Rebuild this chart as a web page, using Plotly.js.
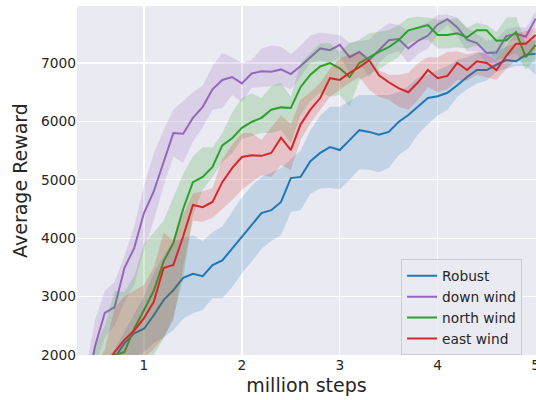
<!DOCTYPE html>
<html>
<head>
<meta charset="utf-8">
<script src="https://cdn.plot.ly/plotly-3.0.1.min.js"></script>
<style>html,body{margin:0;padding:0;background:#fff;}#chart{width:536px;height:400px;}</style>
</head>
<body>
<div id="chart"></div>
<script>
// x positions (million steps)
const steps = [0.4,0.5,0.6,0.7,0.8,0.9,1.0,1.1,1.2,1.3,1.4,1.5,1.6,1.7,1.8,1.9,2.0,2.1,2.2,2.3,2.4,2.5,2.6,2.7,2.8,2.9,3.0,3.1,3.2,3.3,3.4,3.5,3.6,3.7,3.8,3.9,4.0,4.1,4.2,4.3,4.4,4.5,4.6,4.7,4.8,4.9,5.0];

const seriesNames = ["Robust", "down wind", "north wind", "east wind"];

const robustMean = [1300,1450,1700,1950,2200,2370,2450,2680,2940,3110,3320,3390,3350,3540,3620,3820,4030,4240,4430,4480,4620,5030,5050,5320,5460,5560,5510,5680,5850,5820,5770,5820,5990,6110,6250,6400,6430,6490,6620,6760,6880,6880,6970,7050,7030,7140,7160];
const robustLow  = [1000,1200,1500,1700,1850,1950,2050,2200,2300,2430,2620,2720,2770,2970,2970,3160,3400,3600,3820,3950,4050,4450,4480,4760,4850,4860,4840,5000,5180,5170,5130,5200,5420,5540,5780,5950,6100,6200,6420,6550,6650,6700,6850,6900,6950,6950,6800];
const robustHigh = [1500,1700,1900,2100,2400,2700,3000,3400,3700,3950,4000,4050,3950,4100,4200,4450,4700,4900,5050,5120,5200,5350,5500,5850,6100,6250,6250,6350,6450,6450,6450,6450,6500,6600,6750,6800,6880,6950,7050,7100,7170,7200,7220,7280,7340,7370,7390];

const downMean = [1300,2150,2720,2820,3490,3830,4430,4800,5300,5800,5790,6060,6250,6550,6710,6760,6650,6820,6860,6850,6890,6810,6950,7100,7250,7220,7310,7100,7190,7050,7220,7390,7410,7250,7380,7470,7660,7750,7610,7400,7340,7170,7180,7460,7500,7450,7760];
const downLow  = [1000,1800,2300,2500,2900,3200,3800,4300,4900,5400,5290,5650,5900,6200,6230,6450,6330,6570,6590,6600,6620,6550,6760,7000,7050,7000,7100,6850,7000,6750,7000,7150,7200,7000,7150,7250,7500,7650,7450,7200,7200,7000,7000,7350,7400,7300,7650];
const downHigh = [1700,2600,3100,3250,3700,4200,4900,5450,5850,6200,6350,6500,6620,6950,7170,7100,7000,7050,7250,7300,7280,7150,7300,7470,7520,7500,7480,7350,7370,7400,7560,7680,7650,7550,7620,7700,7820,7830,7780,7600,7500,7380,7420,7580,7620,7600,7880];

const northMean = [1200,1450,1600,2000,2050,2450,2770,3100,3600,3920,4500,4960,5050,5220,5590,5710,5890,5990,6060,6200,6240,6230,6590,6800,6940,7000,6910,6760,7000,7100,7190,7270,7390,7560,7600,7650,7480,7480,7510,7440,7560,7560,7380,7390,7530,7100,7310];
const northLow  = [1000,1200,1400,1500,1600,1650,1750,2000,2280,2650,3300,4400,4830,5050,5300,5450,5700,5750,5800,5800,5850,5630,6110,6350,6490,6420,6450,6250,6700,6800,6900,7000,7100,7340,7390,7400,7250,7250,7270,7250,7300,7220,7050,7100,7170,6880,7080];
const northHigh = [1700,2150,2500,3100,3080,3350,3900,4100,4300,4700,5100,5400,5560,5550,5800,6150,6400,6480,6400,6600,6660,6420,7000,7170,7340,7340,7190,7340,7400,7510,7540,7560,7650,7770,7790,7780,7740,7740,7770,7600,7690,7650,7530,7770,7790,7340,7510];

const eastMean = [1300,1550,1800,2050,2260,2420,2630,2910,3490,3540,4030,4570,4530,4620,4960,5200,5390,5420,5410,5460,5720,5510,5950,6200,6400,6740,6710,6830,6930,7050,6790,6670,6570,6500,6670,6880,6740,6780,7000,6880,7030,7000,6880,7120,7330,7330,7480];
const eastLow  = [1000,1200,1500,1700,1800,1850,1950,2100,2300,2600,3500,4300,4280,4350,4500,4650,4830,4950,5080,5050,5250,5170,5680,5970,6200,6420,6540,6660,6760,6540,6420,6370,6250,6200,6370,6590,6500,6550,6710,6700,6800,6750,6710,6900,7050,7100,7220];
const eastHigh = [1500,1800,2100,2800,3000,3100,3200,3500,4090,3970,4400,4770,4800,4860,5350,5600,5800,5800,5680,5900,6100,5950,6370,6500,6660,6900,7080,7140,7200,7000,6880,6800,6800,6830,7000,7100,7100,7190,7200,7150,7190,7150,7050,7300,7510,7550,7600];

const xTicks = [1,2,3,4,5];
const yTicks = [2000,3000,4000,5000,6000,7000];

const lineColors = ["#1f77b4", "#9467bd", "#2ca02c", "#d62728"];
const bandColors = ["rgba(31,119,180,0.2)", "rgba(148,103,189,0.2)", "rgba(44,160,44,0.2)", "rgba(214,39,40,0.2)"];

const means = [robustMean, downMean, northMean, eastMean];
const lows = [robustLow, downLow, northLow, eastLow];
const highs = [robustHigh, downHigh, northHigh, eastHigh];

const traces = [];
for (let i = 0; i < seriesNames.length; i++) {
  traces.push({x: steps, y: lows[i], mode: "lines", line: {width: 0, color: lineColors[i]}, showlegend: false, hoverinfo: "skip"});
  traces.push({x: steps, y: highs[i], mode: "lines", line: {width: 0, color: lineColors[i]}, fill: "tonexty", fillcolor: bandColors[i], showlegend: false, hoverinfo: "skip"});
  traces.push({x: steps, y: means[i], mode: "lines", name: seriesNames[i], line: {width: 2, color: lineColors[i]}});
}

const fontFam = "DejaVu Sans, sans-serif";
const layout = {
  width: 536, height: 400,
  margin: {l: 77, r: 0, t: 6, b: 45, pad: 0},
  paper_bgcolor: "#ffffff",
  plot_bgcolor: "#EAEAF2",
  font: {family: fontFam, color: "#262626", size: 13.75},
  xaxis: {
    range: [0.316, 5.004], tickvals: xTicks, ticktext: xTicks.map(String),
    showgrid: true, gridcolor: "#ffffff", gridwidth: 1.3, zeroline: false, showline: false, ticks: "",
    tickfont: {size: 13.75, color: "#262626"}, ticklabeloverflow: "allow",
    title: {text: "million steps", font: {size: 19, color: "#262626"}, standoff: 6},
    automargin: false
  },
  yaxis: {
    range: [2000, 7976], tickvals: yTicks, ticktext: yTicks.map(String),
    showgrid: true, gridcolor: "#ffffff", gridwidth: 1.3, zeroline: false, showline: false, ticks: "",
    tickfont: {size: 13.75, color: "#262626"},
    title: {text: "Average Reward", font: {size: 19, color: "#262626"}, standoff: 8},
    automargin: false
  },
  legend: {
    x: 0.706, y: 0.274, xanchor: "left", yanchor: "top", traceorder: "normal",
    bgcolor: "rgba(234,234,242,0.8)", bordercolor: "#CCCCCC", borderwidth: 1,
    font: {size: 13.75, color: "#262626"}, tracegroupgap: 0
  },
  showlegend: true
};

Plotly.newPlot("chart", traces, layout, {displayModeBar: false, staticPlot: true});
</script>
</body>
</html>
